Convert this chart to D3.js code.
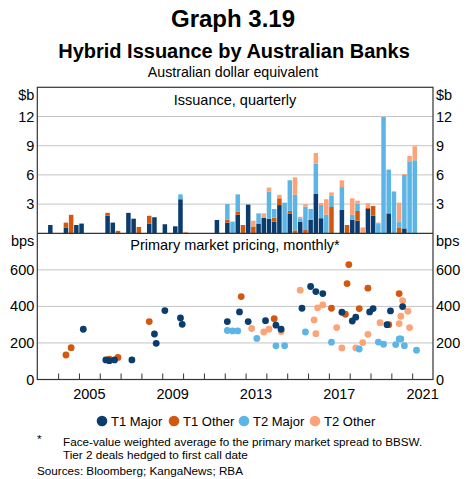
<!DOCTYPE html>
<html><head><meta charset="utf-8">
<script src="https://cdn.jsdelivr.net/npm/d3@7"></script>
<style>
html,body{margin:0;padding:0;background:#fff;}
svg{display:block;font-family:Arial,"Liberation Sans",sans-serif;}
</style></head>
<body>
<script>
// ---------- DATA ----------
const quarters = ["2003Q3","2004Q2","2004Q3","2004Q4","2005Q1","2006Q2","2006Q3","2006Q4","2007Q2","2007Q3","2007Q4","2008Q2","2008Q3","2009Q1","2009Q3","2009Q4","2010Q1","2011Q3","2012Q1","2012Q2","2012Q3","2012Q4","2013Q1","2013Q2","2013Q3","2013Q4","2014Q1","2014Q2","2014Q3","2014Q4","2015Q1","2015Q2","2015Q3","2015Q4","2016Q1","2016Q2","2016Q3","2016Q4","2017Q1","2017Q3","2017Q4","2018Q1","2018Q2","2018Q3","2018Q4","2019Q1","2019Q2","2019Q3","2019Q4","2020Q1","2020Q2","2020Q3","2020Q4","2021Q1"];
const issT1Major = [0.85,0.6,0,0.85,1.0,1.8,1.1,0,2.1,1.5,0,1.0,1.65,0.93,0.72,3.5,0,1.37,1.1,0,1.9,0,2.95,0,1.0,1.6,1.5,1.2,2.9,0,2.0,0,1.2,0,1.4,4.05,1.55,0,0,2.4,0,1.4,1.3,0,2.5,1.8,0,0,2.05,0,0,0.5,0,0];
const issT1Other = [0,0.5,1.9,0,0,0.3,0,0.25,0,0,0.65,0.8,0,0,0,0,0,0,0.3,0,0.3,0.85,0,0.7,0,0,0,0.4,0.7,0,0.3,0.3,0,0.4,0,0,0,0,2.7,0,0.85,0,1.0,0,0.1,1.0,0,0,0,0,0.55,0,0,0];
const issT2Major = [0,0,0,0,0,0,0,0,0,0,0,0,0,0,0,0.5,0,0,1.6,1.2,1.8,0,0,0,1.05,0,2.8,0.9,0,3.15,3.15,3.65,0.35,2.35,1.1,3.1,1.35,1.9,1.15,2.35,0,0.5,0.75,0,0,0,0.95,11.95,4.5,4.3,0.6,5.5,7.4,7.5];
const issT2Other = [0,0,0,0,0,0,0,0,0,0,0,0,0,0,0,0,0.15,0,0,0,0,0,0,0.6,0,0.45,0.4,0,0.35,0,0,1.8,0.15,0.25,0,1.1,0.2,1.6,0.35,0.7,0,1.7,0.3,0.6,0.5,0,0.15,0,0,0,2.0,0.1,0.55,1.45];

const prT1Major = [["2005-03",275],["2006-04",107],["2006-06",103],["2006-09",107],["2007-07",107],["2008-08",249],["2008-09",198],["2009-02",377],["2009-11",337],["2009-12",302],["2012-02",317],["2012-09",370],["2013-02",317],["2013-12",322],["2014-06",297],["2014-09",275],["2015-09",390],["2016-02",509],["2016-05",481],["2016-09",470],["2017-08",368],["2018-02",320],["2018-04",341],["2018-12",370],["2019-02",388],["2019-10",300],["2019-12",375],["2020-07",399]];
const prT1Other = [["2004-05",134],["2004-08",174],["2006-06",112],["2006-11",121],["2008-05",317],["2012-10",454],["2014-05",333],["2017-02",390],["2017-10",357],["2017-11",525],["2017-12",629],["2018-06",388],["2018-11",500],["2019-11",300],["2020-05",470]];
const prT2Major = [["2012-02",268],["2012-05",266],["2012-08",266],["2013-07",225],["2014-06",184],["2014-11",185],["2015-11",260],["2017-02",204],["2018-06",167],["2019-05",205],["2019-08",193],["2020-03",191],["2020-05",222],["2020-06",222],["2020-08",185],["2021-03",160]];
const prT2Other = [["2013-04",279],["2013-11",260],["2014-02",275],["2014-09",262],["2015-08",489],["2016-04",326],["2016-05",251],["2016-06",392],["2016-09",408],["2017-05",284],["2017-08",173],["2018-04",173],["2018-08",202],["2018-11",247],["2019-06",311],["2020-05",306],["2020-06",346],["2020-07",432],["2020-10",374],["2020-11",284]];

const seriesNames = ["T1 Major","T1 Other","T2 Major","T2 Other"];
const seriesColors = ["#0b3c6e","#d2580f","#5db5e5","#fca377"];
const yearLabels = [2005,2009,2013,2017,2021];
const topTicks = [3,6,9,12];
const botTicks = [0,200,400,600];

// ---------- LAYOUT ----------
const W = 466, H = 479;
const L = 37.3, R = 433, T = 87.3, MID = 233.3, B = 379.5;
const svg = d3.select("body").append("svg").attr("width",W).attr("height",H);

const x = d3.scaleLinear().domain([2003,2022]).range([L,R]);
const yTop = d3.scaleLinear().domain([0,15]).range([MID,T]);
const yBot = d3.scaleLinear().domain([0,800]).range([B,MID]);

const qStart = q => +q.slice(0,4) + (+q.slice(5)-1)/4;
const mMid = m => +m.slice(0,4) + (+m.slice(5,7)-0.5)/12;

// titles
svg.append("text").attr("x",233).attr("y",27).attr("text-anchor","middle")
  .attr("font-size",24).attr("font-weight","bold").text("Graph 3.19");
svg.append("text").attr("x",234).attr("y",58).attr("text-anchor","middle")
  .attr("font-size",20).attr("font-weight","bold").text("Hybrid Issuance by Australian Banks");
svg.append("text").attr("x",233).attr("y",77).attr("text-anchor","middle")
  .attr("font-size",14.2).text("Australian dollar equivalent");

// gridlines
svg.append("g").selectAll("line").data(topTicks).join("line")
  .attr("x1",L).attr("x2",R).attr("y1",d=>yTop(d)).attr("y2",d=>yTop(d))
  .attr("stroke","#c4c4c4").attr("stroke-width",1);
svg.append("g").selectAll("line").data(botTicks.filter(d=>d>0)).join("line")
  .attr("x1",L).attr("x2",R).attr("y1",d=>yBot(d)).attr("y2",d=>yBot(d))
  .attr("stroke","#c4c4c4").attr("stroke-width",1);

// bars
const qw = x(2003.25)-x(2003);
const stackData = quarters.map((q,i)=>({q, v:[issT1Major[i],issT1Other[i],issT2Major[i],issT2Other[i]]}));
const barG = svg.append("g");
stackData.forEach(d=>{
  let acc = 0;
  d.v.forEach((v,k)=>{
    if(v>0){
      barG.append("rect")
        .attr("x", x(qStart(d.q))+0.35)
        .attr("width", qw-0.7)
        .attr("y", yTop(acc+v))
        .attr("height", yTop(acc)-yTop(acc+v))
        .attr("fill", seriesColors[k]);
      acc += v;
    }
  });
});

// scatter
const scat = [prT2Other,prT2Major,prT1Other,prT1Major];
const scatCol = [seriesColors[3],seriesColors[2],seriesColors[1],seriesColors[0]];
scat.forEach((arr,k)=>{
  svg.append("g").selectAll("circle").data(arr).join("circle")
    .attr("cx",d=>x(mMid(d[0]))).attr("cy",d=>yBot(d[1])).attr("r",3.4)
    .attr("fill",scatCol[k]);
});

// frame
const fr = svg.append("g").attr("stroke","#333").attr("stroke-width",1.2).attr("fill","none");
fr.append("rect").attr("x",L).attr("y",T).attr("width",R-L).attr("height",B-T);
fr.append("line").attr("x1",L).attr("x2",R).attr("y1",MID).attr("y2",MID);

// x axis ticks (inside, upward)
const xAxis = d3.axisTop(x).tickValues(d3.range(2004,2022)).tickSize(6).tickFormat("");
const xg = svg.append("g").attr("transform",`translate(0,${B})`).call(xAxis);
xg.select(".domain").remove();
xg.selectAll("line").attr("stroke","#333").attr("stroke-width",1);

// x labels centred in year
svg.append("g").selectAll("text").data(yearLabels).join("text")
  .attr("x",d=>x(d+0.5)).attr("y",399).attr("text-anchor","middle")
  .attr("font-size",14.5).text(d=>d);

// y labels
function yLabels(scale, ticks, unit, unitY){
  const g = svg.append("g").attr("font-size",14.5);
  [[L-3,"end"],[R+3,"start"]].forEach(([px,anchor])=>{
    g.append("g").selectAll("text").data(ticks).join("text")
      .attr("x",px).attr("y",d=>scale(d)+5).attr("text-anchor",anchor).text(d=>d);
    g.append("text").attr("x",px).attr("y",unitY).attr("text-anchor",anchor).text(unit);
  });
}
yLabels(yTop, topTicks, "$b", 100);
yLabels(yBot, botTicks, "bps", 246);

// panel titles
svg.append("text").attr("x",235).attr("y",105).attr("text-anchor","middle").attr("font-size",14.5).text("Issuance, quarterly");
svg.append("text").attr("x",235).attr("y",250).attr("text-anchor","middle").attr("font-size",14.5).text("Primary market pricing, monthly*");

// legend
const legX = [102,174,244,315];
const lg = svg.append("g");
seriesNames.forEach((n,i)=>{
  lg.append("circle").attr("cx",legX[i]).attr("cy",421).attr("r",5.3).attr("fill",seriesColors[i]);
  lg.append("text").attr("x",legX[i]+9).attr("y",425.5).attr("font-size",13).text(n);
});

// footnotes
svg.append("text").attr("x",37).attr("y",443).attr("font-size",11.7).text("*");
svg.append("text").attr("x",63).attr("y",446).attr("font-size",11.7).text("Face-value weighted average fo the primary market spread to BBSW.");
svg.append("text").attr("x",63).attr("y",459).attr("font-size",11.7).text("Tier 2 deals hedged to first call date");
svg.append("text").attr("x",37).attr("y",475).attr("font-size",11.7).text("Sources: Bloomberg; KangaNews; RBA");
</script>
</body></html>
